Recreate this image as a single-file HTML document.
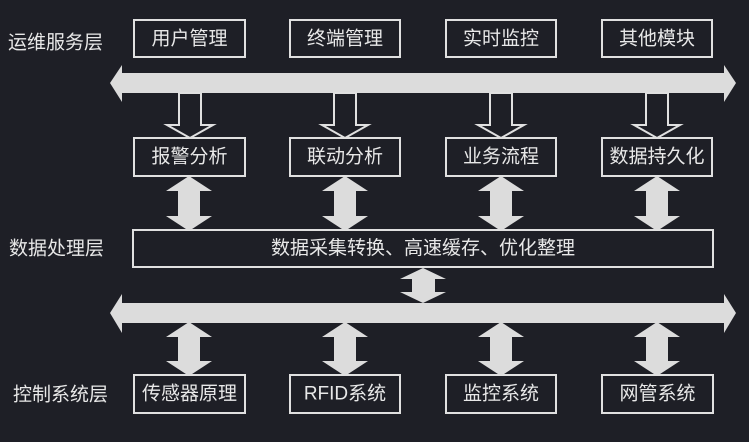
<!DOCTYPE html>
<html><head><meta charset="utf-8"><style>
html,body{margin:0;padding:0;background:#1e1f26;}
svg{display:block}
text{font-family:"Liberation Sans","Noto Sans CJK SC",sans-serif;fill:#e8e8e8;}
</style></head><body>
<svg width="749" height="442" viewBox="0 0 749 442" xmlns="http://www.w3.org/2000/svg">
<rect width="749" height="442" fill="#1e1f26"/>
<g fill="#dcdcdc">
<polygon points="110,83 122,65 122,73 724,73 724,65 736,83 724,102 724,93 122,93 122,102"/>
<polygon points="110,313 122,294 122,303 724,303 724,294 736,313 724,333 724,323 122,323 122,333"/>
</g>
<g fill="none" stroke="#e0e0e0" stroke-width="2">
<polygon points="179,93 201,93 201,125 213,125 190,138 167,125 179,125"/>
<polygon points="334,93 356,93 356,125 368,125 345,138 322,125 334,125"/>
<polygon points="490,93 512,93 512,125 524,125 501,138 478,125 490,125"/>
<polygon points="646,93 668,93 668,125 680,125 657,138 634,125 646,125"/>
</g>
<g fill="#dcdcdc">
<polygon points="189,176 212,191 200,191 200,216 212,216 189,231 166,216 178,216 178,191 166,191"/>
<polygon points="345,176 368,191 356,191 356,216 368,216 345,231 322,216 334,216 334,191 322,191"/>
<polygon points="501,176 524,191 512,191 512,216 524,216 501,231 478,216 490,216 490,191 478,191"/>
<polygon points="657,176 680,191 668,191 668,216 680,216 657,231 634,216 646,216 646,191 634,191"/>
<polygon points="423,268 446,279 435,279 435,292 446,292 423,303 400,292 412,292 412,279 400,279"/>
<polygon points="189,322 212,337 200,337 200,361 212,361 189,376 166,361 178,361 178,337 166,337"/>
<polygon points="345,322 368,337 356,337 356,361 368,361 345,376 322,361 334,361 334,337 322,337"/>
<polygon points="501,322 524,337 512,337 512,361 524,361 501,376 478,361 490,361 490,337 478,337"/>
<polygon points="657,322 680,337 668,337 668,361 680,361 657,376 634,361 646,361 646,337 634,337"/>
</g>
<g fill="#1e1f26" stroke="#e0e0e0" stroke-width="2">
<rect x="134" y="20" width="111" height="37"/>
<rect x="290" y="20" width="110" height="37"/>
<rect x="446" y="20" width="110" height="37"/>
<rect x="602" y="20" width="110" height="37"/>
<rect x="134" y="138" width="111" height="38"/>
<rect x="290" y="138" width="110" height="38"/>
<rect x="446" y="138" width="110" height="38"/>
<rect x="602" y="138" width="110" height="38"/>
<rect x="133" y="230" width="580" height="37"/>
<rect x="134" y="375" width="111" height="38"/>
<rect x="290" y="375" width="110" height="38"/>
<rect x="446" y="375" width="110" height="38"/>
<rect x="602" y="375" width="111" height="38"/>
</g>
<g font-size="19" text-anchor="middle" dominant-baseline="central">
<text x="189.5" y="39">用户管理</text>
<text x="345" y="39">终端管理</text>
<text x="501" y="39">实时监控</text>
<text x="657" y="39">其他模块</text>
<text x="189.5" y="157">报警分析</text>
<text x="345" y="157">联动分析</text>
<text x="501" y="157">业务流程</text>
<text x="657" y="157">数据持久化</text>
<text x="423" y="248.5">数据采集转换、高速缓存、优化整理</text>
<text x="189.5" y="394">传感器原理</text>
<text x="345" y="394">RFID系统</text>
<text x="501" y="394">监控系统</text>
<text x="657.5" y="394">网管系统</text>
</g>
<g font-size="19" dominant-baseline="central">
<text x="8" y="43">运维服务层</text>
<text x="9" y="249">数据处理层</text>
<text x="13" y="395">控制系统层</text>
</g>
</svg>
</body></html>
